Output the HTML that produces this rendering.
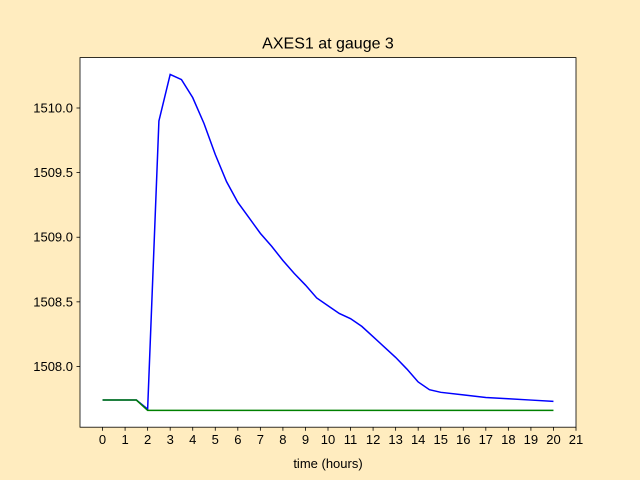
<!DOCTYPE html>
<html><head><meta charset="utf-8"><style>
html,body{margin:0;padding:0;background:#ffecbf;}
svg{display:block;font-family:"Liberation Sans","DejaVu Sans",sans-serif;}
</style></head><body>
<svg id="chart" width="640" height="480"></svg>
<script>
const blueX=[0,0.5,1,1.5,2,2.5,3,3.5,4,4.5,5,5.5,6,6.5,7,7.5,8,8.5,9,9.5,10,10.5,11,11.5,12,12.5,13,13.5,14,14.5,15,16,17,18,19,20];
const blueY=[1507.74,1507.74,1507.74,1507.74,1507.67,1509.9,1510.26,1510.22,1510.08,1509.88,1509.64,1509.43,1509.27,1509.15,1509.03,1508.93,1508.82,1508.72,1508.63,1508.53,1508.47,1508.41,1508.37,1508.31,1508.23,1508.15,1508.07,1507.98,1507.88,1507.82,1507.80,1507.78,1507.76,1507.75,1507.74,1507.73];
const greenX=[0,0.5,1,1.5,2,3,5,10,15,20];
const greenY=[1507.74,1507.74,1507.74,1507.74,1507.66,1507.66,1507.66,1507.66,1507.66,1507.66];
const xTicks=[0,1,2,3,4,5,6,7,8,9,10,11,12,13,14,15,16,17,18,19,20,21];
const yTicks=[1508.0,1508.5,1509.0,1509.5,1510.0];
const xMin=-1,xMax=21,yMin=1507.53,yMax=1510.39;
const L=80,R=576,T=57.6,B=427.2;
const sx=v=>L+(v-xMin)/(xMax-xMin)*(R-L);
const sy=v=>B-(v-yMin)/(yMax-yMin)*(B-T);
const NS="http://www.w3.org/2000/svg";
const svg=document.getElementById('chart');
function mk(t,a,p){const e=document.createElementNS(NS,t);for(const k in a)e.setAttribute(k,a[k]);(p||svg).appendChild(e);return e;}
const bg=mk('rect',{x:L,y:T,width:R-L,height:B-T,fill:'#fff'});


xTicks.forEach(v=>{
  const x=sx(v);
  const t=mk('line',{x1:x,x2:x,y1:B,y2:B+3.5,stroke:'#000','stroke-width':0.8});
  
  
  const l=mk('text',{x:x,y:B+17,'text-anchor':'middle','font-size':13});
  l.textContent=v;
  
  
});
yTicks.forEach(v=>{
  const y=sy(v);
  const t=mk('line',{x1:L-3.5,x2:L,y1:y,y2:y,stroke:'#000','stroke-width':0.8});
  
  
  const l=mk('text',{x:L-7,y:y+4.5,'text-anchor':'end','font-size':13});
  l.textContent=v.toFixed(1);
  
  
});
function series(xs,ys,c,n){
  const p=mk('polyline',{points:xs.map((x,i)=>sx(x)+','+sy(ys[i])).join(' '),fill:'none',stroke:c,'stroke-width':1.5});
  
  
}
series(blueX,blueY,'#0000ff','blue-series-line');
series(greenX,greenY,'#008000','green-series-line');
const fr=mk('rect',{x:L,y:T,width:R-L,height:B-T,fill:'none',stroke:'#000','stroke-width':0.8});


const ti=mk('text',{x:(L+R)/2,y:T-9,'text-anchor':'middle','font-size':16});
ti.textContent='AXES1 at gauge 3';


const xl=mk('text',{x:(L+R)/2,y:468,'text-anchor':'middle','font-size':13});
xl.textContent='time (hours)';


</script>
</body></html>
